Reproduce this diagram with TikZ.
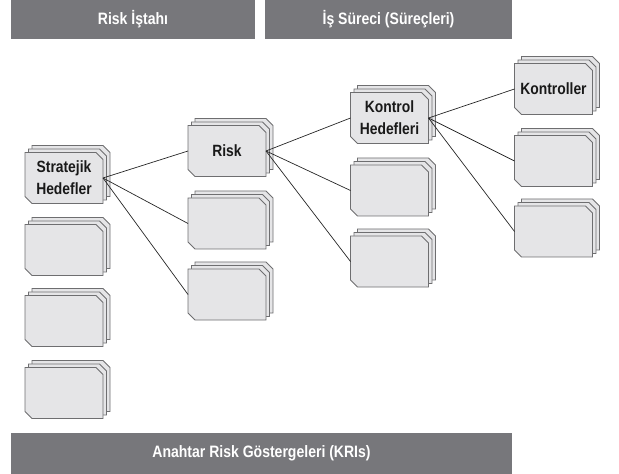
\documentclass[tikz,border=0pt]{standalone}
\usepackage{fontspec}
\setmainfont{Liberation Sans}[FakeStretch=0.85]
\definecolor{barfill}{RGB}{119,119,123}
\definecolor{cardfill}{RGB}{229,229,231}
\definecolor{cardline}{RGB}{110,110,112}
% stacked card: name, x, y, text
\newcommand{\stackcard}[4]{%
  \foreach \d in {7,3.5,0}
    \filldraw[cardedge, shift={(\d,-\d)}] (#2-39,#3-25.5) -- ++(71,0) -- ++(7,7) -- ++(0,44)
      -- ++(-71,0) -- ++(-7,-7) -- cycle;
  \node[cardtext] (#1) at (#2,#3) {#4};
}
\begin{document}
\begin{tikzpicture}[x=1bp, y=-1bp,
    band/.style={rectangle, fill=barfill, text=white, inner sep=0pt, font=\bfseries\fontsize{16.5bp}{18bp}\selectfont},
    cardedge/.style={draw=cardline, fill=cardfill, line width=0.8bp, line join=miter},
    cardtext/.style={rectangle, minimum width=78bp, minimum height=51bp, inner sep=0pt, outer sep=0pt,
        align=center, text=black!90, font=\bfseries\fontsize{16.3bp}{22bp}\selectfont},
    link/.style={draw=black!85, line width=0.7bp}
]
\useasboundingbox (0,0) rectangle (619,474);

% Header and footer bands
\node[band, minimum width=244bp, minimum height=39bp] (appetite) at (133, 19.5)  {Risk İştahı};
\node[band, minimum width=247bp, minimum height=39bp] (process)  at (388.5, 19.5) {İş Süreci (Süreçleri)};
\node[band, minimum width=501bp, minimum height=41bp] (kri)      at (261.5, 453.5) {Anahtar Risk Göstergeleri (KRIs)};

% Column 1
\stackcard{strat}{64}{178}{Stratejik\\Hedefler}
\stackcard{s2}{64}{250}{}
\stackcard{s3}{64}{321}{}
\stackcard{s4}{64}{393}{}

% Column 2
\stackcard{risk}{227}{151}{Risk}
\stackcard{r2}{227}{223.5}{}
\stackcard{r3}{227}{294.5}{}

% Column 3
\stackcard{ctrlobj}{389.5}{118}{Kontrol\\Hedefleri}
\stackcard{o2}{389.5}{190.5}{}
\stackcard{o3}{389.5}{261.5}{}

% Column 4
\stackcard{ctrls}{553.5}{89}{Kontroller}
\stackcard{c2}{553.5}{161}{}
\stackcard{c3}{553.5}{231.5}{}

% Links
\draw[link] (strat.east) -- (risk.west);
\draw[link] (strat.east) -- (r2.west);
\draw[link] (strat.east) -- (r3.west);

\draw[link] (risk.east) -- (ctrlobj.west);
\draw[link] (risk.east) -- (o2.west);
\draw[link] (risk.east) -- (o3.west);

\draw[link] (ctrlobj.east) -- (ctrls.west);
\draw[link] (ctrlobj.east) -- (c2.west);
\draw[link] (ctrlobj.east) -- (c3.west);

\end{tikzpicture}
\end{document}
